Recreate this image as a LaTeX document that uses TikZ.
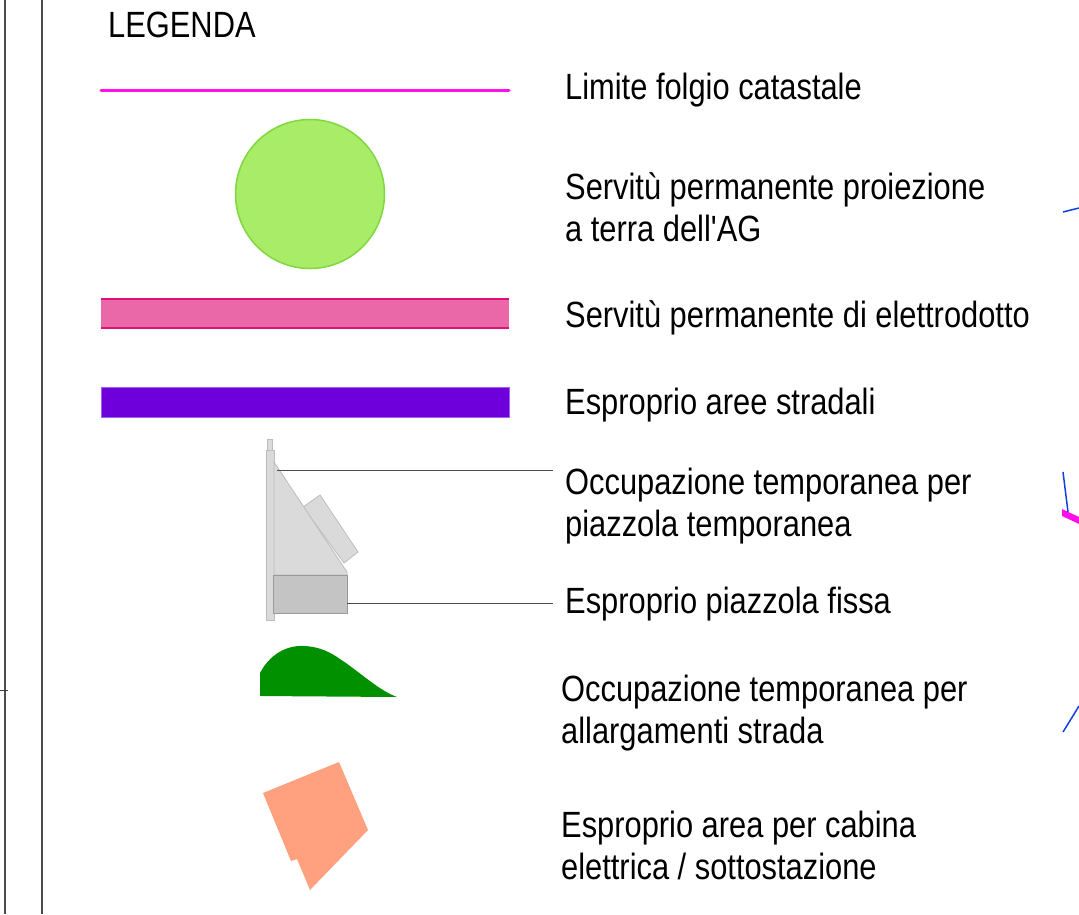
\documentclass[tikz,border=0pt]{standalone}
\usepackage{fontspec}
\newfontfamily\legfont[FakeStretch=0.845]{Liberation Sans}
\definecolor{catline}{HTML}{FF10E8}
\definecolor{agfill}{HTML}{A8EC68}
\definecolor{agdraw}{HTML}{80D840}
\definecolor{elfill}{HTML}{EB68A8}
\definecolor{eldraw}{HTML}{E0107A}
\definecolor{strfill}{HTML}{6E00DC}
\definecolor{strdraw}{HTML}{A060F0}
\definecolor{tmpfill}{HTML}{DADADA}
\definecolor{tmpdraw}{HTML}{BDBDBD}
\definecolor{fixfill}{HTML}{C4C4C4}
\definecolor{fixdraw}{HTML}{9A9A9A}
\definecolor{roadfill}{HTML}{009000}
\definecolor{cabfill}{HTML}{FFA07F}
\definecolor{mapblue}{HTML}{1040E0}
\begin{document}
\begin{tikzpicture}[x=1pt,y=-1pt,
  lbl/.style={anchor=base west,inner sep=0pt,font=\legfont\fontsize{36.5}{42}\selectfont,align=left},
  frame/.style={draw=black!70,line width=2pt},
  leader/.style={draw=black!70,line width=0.8pt}]
\useasboundingbox[fill=white] (0,0) rectangle (1079,914);
% frame lines
\draw[frame] (4.5,0) -- (4.5,914);
\draw[frame] (42,0) -- (42,914);
\draw[black!75,line width=0.8pt] (0,690) -- (8,690);
% title
\node[lbl] (title) at (108,37) {LEGENDA};
% 1 cadastral limit
\draw[catline,line width=3pt,line cap=round] (101,90) -- (509,90);
\node[lbl] (t1) at (565,99) {Limite folgio catastale};
% 2 AG circle
\draw[agdraw,fill=agfill,line width=1.5pt] (310,194) circle (74.5);
\node[lbl] (t2) at (565,241) {Servitù permanente proiezione\\a terra dell'AG};
% 3 elettrodotto
\fill[elfill] (101,299) rectangle (509,328);
\draw[eldraw,line width=1.6pt] (101,299) -- (509,299) (101,328) -- (509,328);
\node[lbl] (t3) at (565,327) {Servitù permanente di elettrodotto};
% 4 strade
\draw[strdraw,fill=strfill,line width=0.8pt] (101,387) rectangle (509,417);
\node[lbl] (t4) at (565,414) {Esproprio aree stradali};
% 5 piazzola
\draw[tmpdraw,fill=tmpfill,line width=0.8pt] (303,507) -- (320,495) -- (358,552) -- (344,563) -- cycle;
\draw[tmpdraw,fill=tmpfill,line width=0.8pt] (266,450) rectangle (274,620);
\draw[tmpdraw,fill=tmpfill,line width=0.8pt] (267,439) rectangle (272,450);
\draw[tmpdraw,fill=tmpfill,line width=0.8pt] (274,462) -- (347,572) -- (347,575) -- (274,575) -- cycle;
\draw[fixdraw,fill=fixfill,line width=0.8pt] (273,575) rectangle (347,613);
\coordinate (p1) at (277,470);
\coordinate (p2) at (347,603);
\node[lbl] (t5) at (565,536) {Occupazione temporanea per\\piazzola temporanea};
\node[lbl] (t6) at (565,613) {Esproprio piazzola fissa};
\draw[leader] (p1) -- (553,470);
\draw[leader] (p2) -- (553,603);
% 6 allargamenti
\fill[roadfill] (260,696) -- (260,673) .. controls (272,650) and (292,645) .. (305,646)
  .. controls (320,647) and (330,652) .. (340,659)
  .. controls (360,672) and (378,690) .. (397,697) -- cycle;
\node[lbl] (t7) at (561,743) {Occupazione temporanea per\\allargamenti strada};
% 7 cabina
\fill[cabfill] (263,793) -- (339,762) -- (368,830) -- (310,890) -- (297,859) -- (291,861) -- cycle;
\node[lbl] (t8) at (561,879) {Esproprio area per cabina\\elettrica / sottostazione};
% map fragments at right edge
\draw[mapblue,line width=1.5pt] (1063,212) -- (1079,208);
\draw[mapblue,line width=1.5pt] (1063,472) -- (1068,512);
\fill[catline] (1062,509) -- (1079,517) -- (1079,524) -- (1062,516) -- cycle;
\draw[mapblue,line width=1.5pt] (1063,732) -- (1079,706);
\end{tikzpicture}
\end{document}
